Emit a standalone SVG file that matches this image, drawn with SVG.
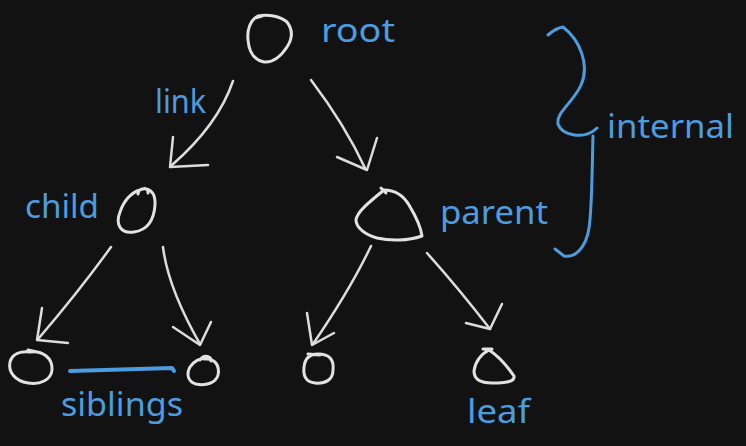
<svg xmlns="http://www.w3.org/2000/svg" width="746" height="446" viewBox="0 0 746 446">
<style>
.bg{fill:#121212}
.n{fill:none;stroke:#e2e2e2;stroke-width:3;stroke-linecap:round;stroke-linejoin:round}
.c{fill:none;stroke:#dcdcdc;stroke-width:2.5;stroke-linecap:round;stroke-linejoin:round}
.b{fill:none;stroke:#4b9de0;stroke-width:3;stroke-linecap:round;stroke-linejoin:round}
.t{fill:#4b9de0;font-family:"Noto Sans","Open Sans",sans-serif;font-size:33px}
</style>
<rect class="bg" x="0" y="0" width="746" height="446"/>
<g id="connectors">
  <g id="root-child"><path class="c" d="M233,81 Q218,125 172,165"/><path class="c" d="M173,137 L170,167 L208,165"/></g>
  <g id="root-parent"><path class="c" d="M311,80 Q345,125 365,168"/><path class="c" d="M377,138 L367,170 L337,157"/></g>
  <g id="child-leaf1"><path class="c" d="M111,247 Q80,290 39,338"/><path class="c" d="M42,308 L37,340 L68,343"/></g>
  <g id="child-leaf2"><path class="c" d="M163,247 Q168,288 200,344"/><path class="c" d="M211,322 L200,345 L173,327"/></g>
  <g id="parent-leaf3"><path class="c" d="M371,246 Q350,290 313,344"/><path class="c" d="M307,313 L312,345 L334,333"/></g>
  <g id="parent-leaf4"><path class="c" d="M427,253 Q460,290 490,329"/><path class="c" d="M502,304 L490,329 L466,323"/></g>
  <g id="siblings-line"><path class="b" style="stroke-width:4" d="M70,371 L172,368 L174,371"/></g>
  <g id="brace"><path class="b" d="M548,35 Q556,28 563,27 C580,40 590,65 581,85 C573,103 556,112 558,124 C562,136 585,140 597,128 M593,136 C592,170 592,210 589,228 C586,248 575,258 564,256 L555,249"/></g>
</g>
<g id="root">
  <path class="n" d="M258,16 C268,14 280,16 287,22 C293,30 293,38 287,47 C281,56 274,63 264,62 C254,60 249,52 248,40 C247,30 250,20 258,16 Z M255,18 L262,16"/>
  <text class="t" x="321" y="42" textLength="74" lengthAdjust="spacingAndGlyphs">root</text>
</g>
<g id="child">
  <path class="n" d="M140,190 C148,186 156,192 155,205 C154,220 148,230 134,232 C121,234 115,225 120,212 C124,200 132,192 140,190 Z M138,194 C139,187 149,187 148,193"/>
  <text class="t" x="25" y="218" textLength="74" lengthAdjust="spacingAndGlyphs">child</text>
</g>
<g id="parent">
  <path class="n" d="M384,190 C394,190 403,195 409,205 C415,215 421,228 422,236 C408,241 390,241 377,238 C366,235 356,228 356,220 C357,212 368,203 384,190 Z M381,188 L386,193"/>
  <text class="t" x="440" y="224" textLength="108" lengthAdjust="spacingAndGlyphs">parent</text>
</g>
<g id="leaf1">
  <path class="n" d="M30,352 C42,350 53,358 52,370 C51,380 40,385 28,383 C15,381 8,372 10,362 C12,354 20,351 30,352 Z M28,350 L37,352"/>
</g>
<g id="leaf2">
  <path class="n" d="M205,359 C215,358 220,366 218,375 C216,383 206,386 196,384 C188,382 186,374 190,367 C194,361 200,358 205,359 Z M200,360 C204,354 212,356 211,361"/>
</g>
<g id="leaf3">
  <path class="n" d="M318,354 C330,354 334,360 333,370 C333,380 325,384 315,383 C306,382 303,376 304,367 C305,358 310,354 318,354 Z M308,354 L320,355"/>
</g>
<g id="leaf4">
  <path class="n" d="M489,350 C497,355 507,366 514,376 C515,382 505,383 492,383 C481,383 474,380 474,371 C475,362 481,354 489,350 Z M483,349 L492,349"/>
  <text class="t" x="467" y="423" textLength="63" lengthAdjust="spacingAndGlyphs">leaf</text>
</g>
<g id="labels">
  <text class="t" x="155" y="113" textLength="51" lengthAdjust="spacingAndGlyphs">link</text>
  <text class="t" x="61" y="416" textLength="122" lengthAdjust="spacingAndGlyphs">siblings</text>
  <text class="t" x="607" y="138" textLength="127" lengthAdjust="spacingAndGlyphs">internal</text>
</g>
</svg>
